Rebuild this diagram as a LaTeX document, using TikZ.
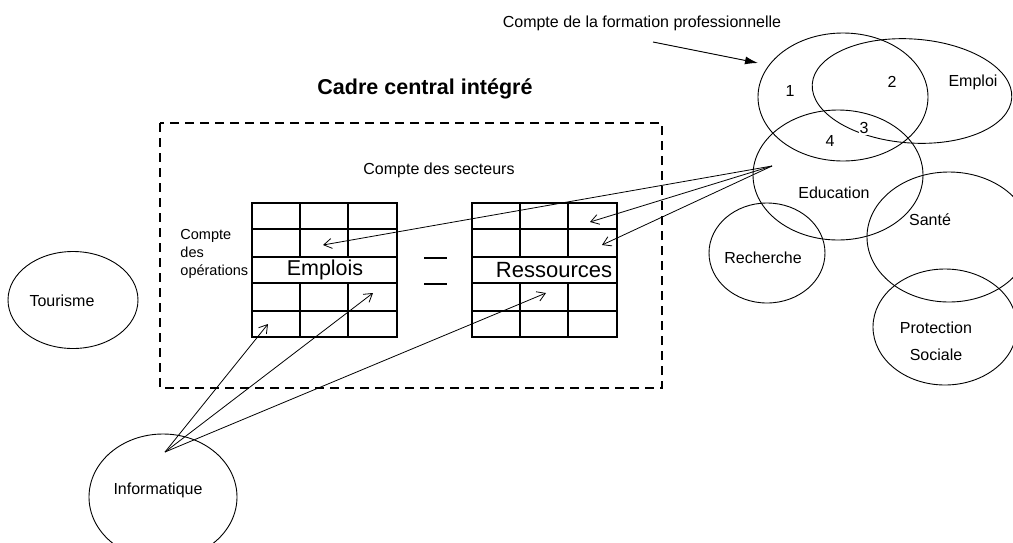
\documentclass[tikz,border=0pt]{standalone}
\usepackage{fontspec}
\setmainfont{Liberation Sans}
\usetikzlibrary{shapes.geometric,arrows.meta}

\begin{document}
\begin{tikzpicture}[x=1pt,y=-1pt,line width=0.9pt,
	every node/.style={font=\fontsize{16}{18}\selectfont,inner sep=1pt},
	zone/.style={draw,ellipse,inner sep=0pt,line width=0.9pt},
	grille/.style={line width=1.8pt},
	fleche/.style={-{Straight Barb[length=8pt,width=10pt]},line width=0.8pt},
	gros/.style={font=\fontsize{21.5}{24}\selectfont}]
\clip (0,0) rectangle (1013,542);
\node[gros,font=\fontsize{21.5}{24}\selectfont\bfseries] (cadre) at (425,89) {Cadre central intégré};
\draw[line width=1.8pt,dash pattern=on 9pt off 6pt] (160,123) rectangle (662,388);
\node (secteurs) at (439,170) {Compte des secteurs};
\node[align=left,anchor=west,font=\fontsize{14.5}{18}\selectfont] (operations) at (179,254) {Compte\\des\\opérations};
\foreach \gx in {252,472}{
	\draw[grille] (\gx,203) rectangle ++(145,134);
	\foreach \gy in {229,257,283,311}
		\draw[grille] (\gx,\gy) -- ++(145,0);
	\foreach \cx in {48,96}{
		\draw[grille] (\gx+\cx,203) -- (\gx+\cx,257);
		\draw[grille] (\gx+\cx,283) -- (\gx+\cx,337);
	}
}
\node[gros] (emplois) at (325,270) {Emplois};
\node[gros,font=\fontsize{22}{24}\selectfont] (ressources) at (554,270) {Ressources};
\draw[grille] (424,258) -- (447,258);
\draw[grille] (424,284) -- (447,284);
\node[zone,minimum width=130pt,minimum height=97pt] (tour) at (73,300) {};
\node (tourisme) at (62,301) {Tourisme};
\node[zone,minimum width=148pt,minimum height=126pt] (info) at (163,497) {};
\node (informatique) at (158,490) {Informatique};
\node[zone,minimum width=170pt,minimum height=128pt] (e1) at (843,97) {};
\node[zone,minimum width=200pt,minimum height=104pt,rotate=-4] (emploi) at (912,91) {};
\node[zone,minimum width=170pt,minimum height=130pt] (educ) at (838,175) {};
\node[zone,minimum width=116pt,minimum height=100pt] (rech) at (767,253) {};
\node[zone,minimum width=164pt,minimum height=130pt] (sante) at (949,237) {};
\node[zone,minimum width=144pt,minimum height=116pt] (prot) at (945,327) {};
\node (n1) at (790,91) {1};
\node (n2) at (892,82) {2};
\node[fill=white] (n3) at (864,128) {3};
\node (n4) at (830,141) {4};
\node (lemploi) at (973,82) {Emploi};
\node (leduc) at (834,193) {Education};
\node (lsante) at (930,220) {Santé};
\node (lrech) at (763,258) {Recherche};
\node[align=center,font=\fontsize{16}{27}\selectfont] (lprot) at (936,341) {Protection\\Sociale};
\node (formation) at (642,23) {Compte de la formation professionnelle};
\coordinate (fdep) at (653,42);
\coordinate (fbout) at (758,63);
\draw[-{Latex[length=13pt,width=8pt]},line width=0.9pt] (fdep) -- (fbout);
\coordinate (edep) at (772,166);
\coordinate (idep) at (165,452);
\coordinate (te1) at (323,245);
\coordinate (tr1) at (590,222);
\coordinate (tr2) at (602,245);
\coordinate (ti1) at (268,324);
\coordinate (ti2) at (373,293);
\coordinate (ti3) at (546,293);
\foreach \t in {te1,tr1,tr2}
	\draw[fleche] (edep) -- (\t);
\foreach \t in {ti1,ti2,ti3}
	\draw[fleche] (idep) -- (\t);
\end{tikzpicture}
\end{document}
